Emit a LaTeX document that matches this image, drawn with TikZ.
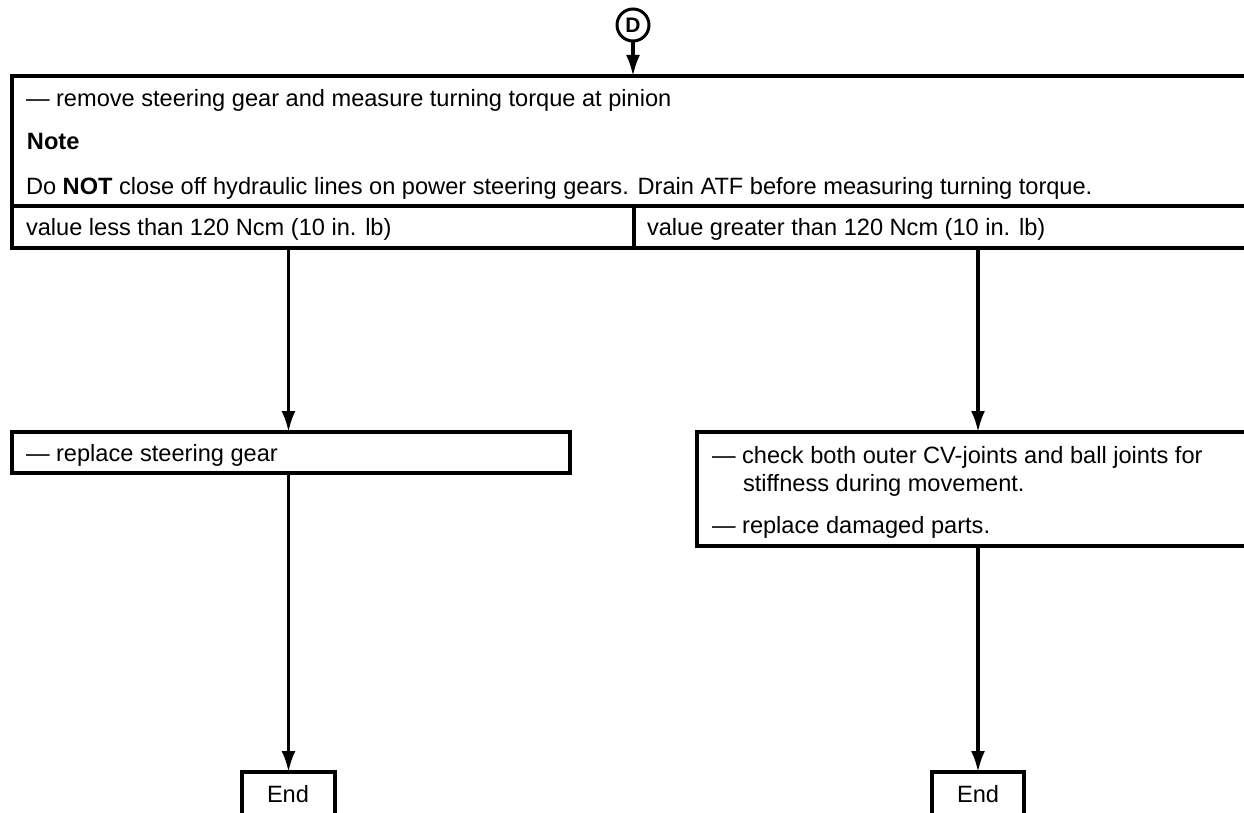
\documentclass[tikz,border=0pt]{standalone}
\usepackage{fontspec}
\setmainfont{Liberation Sans}
\usetikzlibrary{arrows.meta,calc}
\tikzset{
  box/.style={draw, line width=3.2pt, rectangle, inner sep=0pt, outer sep=0pt, anchor=north west},
  txt/.style={inner sep=0pt, outer sep=0pt, anchor=base west, font=\fontsize{23.6}{28}\selectfont},
  arr/.style={line width=3.2pt, -{Latex[length=21pt,width=14pt]}},
  circ/.style={draw, circle, line width=3pt, minimum size=32pt, inner sep=0pt, font=\fontsize{21}{24}\selectfont\bfseries}
}
\begin{document}
\begin{tikzpicture}[x=1pt,y=1pt]
\useasboundingbox (0,0) rectangle (1244,-813);
\clip (0,0) rectangle (1244,-813);
\fill[white] (0,0) rectangle (1244,-813);
% boxes
\node[circ] (D) at (633,-25) {D};
\node[box, minimum width=1238pt, minimum height=130pt] (top) at (12,-76) {};
\node[box, minimum width=622pt, minimum height=42pt] (valL) at (12,-206) {};
\node[box, minimum width=616pt, minimum height=42pt] (valR) at (634,-206) {};
\node[box, minimum width=558pt, minimum height=41pt] (lbox) at (12,-432) {};
\node[box, minimum width=553pt, minimum height=114pt] (rbox) at (697,-432) {};
\node[box, minimum width=93pt, minimum height=50pt] (endL) at (242,-772) {};
\node[box, minimum width=92pt, minimum height=50pt] (endR) at (932,-772) {};
% texts
\node[txt] (t1) at (26,-107) {— remove steering gear and measure turning torque at pinion};
\node[txt] (t2) at (27,-150) {\bfseries Note};
\node[txt] (t3) at (26,-194) {Do \textbf{NOT} close off hydraulic lines on power steering gears. Drain ATF before measuring turning torque.};
\node[txt] (vl) at (26,-235) {value less than 120 Ncm (10 in. lb)};
\node[txt] (vr) at (647,-235) {value greater than 120 Ncm (10 in. lb)};
\node[txt] (lt) at (26,-461) {— replace steering gear};
\node[txt] (r1) at (712,-463) {— check both outer CV-joints and ball joints for};
\node[txt] (r2) at (743,-491) {stiffness during movement.};
\node[txt] (r3) at (712,-533) {— replace damaged parts.};
\node[txt, anchor=base] (e1) at (288,-802) {End};
\node[txt, anchor=base] (e2) at (978,-802) {End};
% connectors
\draw[arr] (D) -- (D |- top.north);
\draw[arr] (endL.north |- valL.south) -- (endL.north |- lbox.north);
\draw[arr] (endL.north |- lbox.south) -- (endL.north);
\draw[arr] (endR.north |- valR.south) -- (endR.north |- rbox.north);
\draw[arr] (endR.north |- rbox.south) -- (endR.north);
\end{tikzpicture}
\end{document}
